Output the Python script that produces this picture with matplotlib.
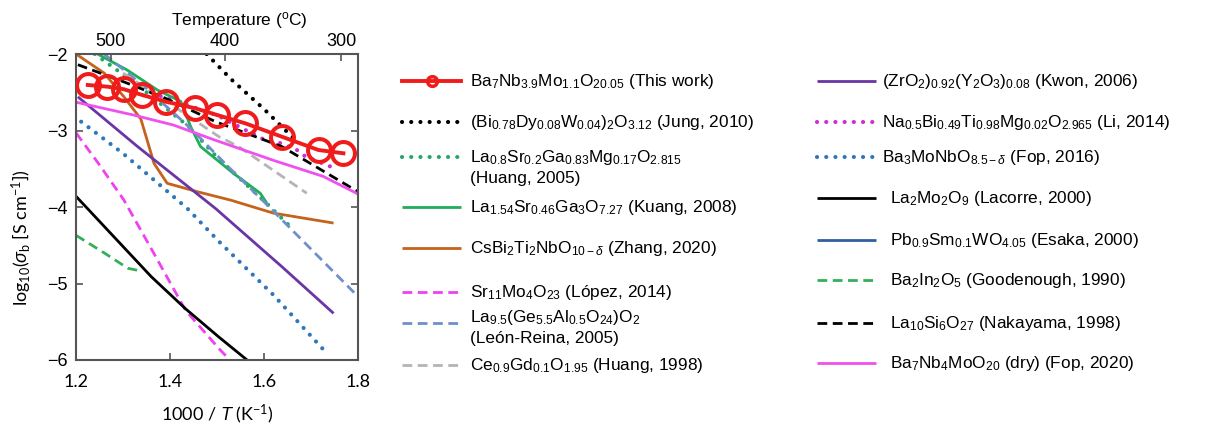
import matplotlib
matplotlib.use("Agg")
import matplotlib.pyplot as plt
from matplotlib.lines import Line2D

plt.rcParams['font.family'] = ['Liberation Sans', 'DejaVu Sans']
plt.rcParams['mathtext.fontset'] = 'custom'
plt.rcParams['mathtext.rm'] = 'Liberation Sans'
plt.rcParams['mathtext.it'] = 'Liberation Sans:italic'
plt.rcParams['mathtext.default'] = 'regular'

# ---- data ----
this_x = [1.225, 1.267, 1.302, 1.341, 1.391, 1.454, 1.500, 1.560, 1.638, 1.716, 1.769]
this_y = [-2.405, -2.427, -2.461, -2.536, -2.623, -2.710, -2.797, -2.906, -3.081, -3.255, -3.298]

jung_x = [1.478, 1.53, 1.60, 1.666]
jung_y = [-2.0, -2.33, -2.72, -3.12]

lsgm_x = [1.24, 1.33, 1.44, 1.50, 1.60, 1.66]
lsgm_y = [-2.0, -2.40, -2.95, -3.35, -3.92, -4.28]

kuang_x = [1.246, 1.309, 1.373, 1.423, 1.444, 1.465, 1.535, 1.592, 1.606]
kuang_y = [-2.0, -2.21, -2.47, -2.62, -2.95, -3.21, -3.56, -3.82, -3.95]

zhang_x = [1.20, 1.26, 1.302, 1.338, 1.366, 1.394, 1.458, 1.529, 1.620, 1.748]
zhang_y = [-2.0, -2.25, -2.56, -2.85, -3.43, -3.69, -3.80, -3.91, -4.08, -4.21]

lopez_x = [1.20, 1.25, 1.302, 1.366, 1.433, 1.504, 1.535]
lopez_y = [-3.03, -3.45, -3.91, -4.61, -5.35, -5.85, -6.05]

leon_x = [1.26, 1.35, 1.447, 1.52, 1.603, 1.70, 1.80]
leon_y = [-2.0, -2.45, -2.99, -3.45, -3.95, -4.55, -5.17]

cgo_x = [1.30, 1.40, 1.504, 1.546, 1.603, 1.691]
cgo_y = [-2.25, -2.65, -3.08, -3.21, -3.45, -3.82]

ysz_x = [1.204, 1.331, 1.497, 1.638, 1.748]
ysz_y = [-2.56, -3.21, -4.02, -4.78, -5.39]

li_x = [1.38, 1.50, 1.575, 1.599, 1.638, 1.670, 1.688, 1.741]
li_y = [-2.55, -2.80, -3.04, -3.115, -3.17, -3.255, -3.34, -3.47]

fop16_x = [1.211, 1.30, 1.437, 1.504, 1.62, 1.737]
fop16_y = [-2.885, -3.30, -4.02, -4.45, -5.15, -5.935]

lacorre_x = [1.20, 1.36, 1.433, 1.504, 1.564]
lacorre_y = [-3.86, -4.91, -5.33, -5.70, -6.0]

good_x = [1.20, 1.26, 1.31, 1.34]
good_y = [-4.37, -4.60, -4.80, -4.84]

naka_x = [1.204, 1.30, 1.391, 1.497, 1.638, 1.715, 1.80]
naka_y = [-2.14, -2.36, -2.58, -2.885, -3.21, -3.49, -3.80]

fop20_x = [1.20, 1.324, 1.408, 1.493, 1.620, 1.726, 1.80]
fop20_y = [-2.63, -2.80, -2.93, -3.12, -3.39, -3.60, -3.83]

temp_labels = ['500', '400', '300']
temp_pos = [1.274, 1.516, 1.764]

dot = (0, (0.01, 2.2))
dash = (0, (3.5, 2.0))

series = [
    # x, y, color, linestyle, label
    (jung_x, jung_y, 'black', dot,
     r'(Bi$_{0.78}$Dy$_{0.08}$W$_{0.04}$)$_2$O$_{3.12}$ (Jung, 2010)'),
    (lsgm_x, lsgm_y, '#25a868', dot,
     r'La$_{0.8}$Sr$_{0.2}$Ga$_{0.83}$Mg$_{0.17}$O$_{2.815}$' + '\n(Huang, 2005)'),
    (kuang_x, kuang_y, '#1fae5b', '-',
     r'La$_{1.54}$Sr$_{0.46}$Ga$_3$O$_{7.27}$ (Kuang, 2008)'),
    (zhang_x, zhang_y, '#c5621c', '-',
     r'CsBi$_2$Ti$_2$NbO$_{10-\mathit{\delta}}$ (Zhang, 2020)'),
    (lopez_x, lopez_y, '#f040f0', dash,
     r'Sr$_{11}$Mo$_4$O$_{23}$ (López, 2014)'),
    (leon_x, leon_y, '#6f8fcc', dash,
     r'La$_{9.5}$(Ge$_{5.5}$Al$_{0.5}$O$_{24}$)O$_2$' + '\n(León-Reina, 2005)'),
    (cgo_x, cgo_y, '#b4b4b4', dash,
     r'Ce$_{0.9}$Gd$_{0.1}$O$_{1.95}$ (Huang, 1998)'),
    (ysz_x, ysz_y, '#6a35a5', '-',
     r'(ZrO$_2$)$_{0.92}$(Y$_2$O$_3$)$_{0.08}$ (Kwon, 2006)'),
    (li_x, li_y, '#d02cd6', dot,
     r'Na$_{0.5}$Bi$_{0.49}$Ti$_{0.98}$Mg$_{0.02}$O$_{2.965}$ (Li, 2014)'),
    (fop16_x, fop16_y, '#2f78b8', dot,
     r'Ba$_3$MoNbO$_{8.5-\mathit{\delta}}$ (Fop, 2016)'),
    (lacorre_x, lacorre_y, 'black', '-',
     r'La$_2$Mo$_2$O$_9$ (Lacorre, 2000)'),
    ([], [], '#2f5fa0', '-',
     r'Pb$_{0.9}$Sm$_{0.1}$WO$_{4.05}$ (Esaka, 2000)'),
    (good_x, good_y, '#33b05a', dash,
     r'Ba$_2$In$_2$O$_5$ (Goodenough, 1990)'),
    (naka_x, naka_y, 'black', dash,
     r'La$_{10}$Si$_6$O$_{27}$ (Nakayama, 1998)'),
    (fop20_x, fop20_y, '#f050ee', '-',
     r'Ba$_7$Nb$_4$MoO$_{20}$ (dry) (Fop, 2020)'),
]


def style(ls):
    if ls == dot:
        return dict(linestyle=ls, lw=3.0, dash_capstyle='round')
    return dict(linestyle=ls, lw=2.0, dash_capstyle='butt', solid_capstyle='butt')


W, H = 1212, 430
fig = plt.figure(figsize=(W / 100, H / 100), dpi=100)
ax = fig.add_axes([76 / W, 1 - 360 / H, 282 / W, 306 / H])

for x, y, c, ls, lab in series:
    ax.plot(x, y, color=c, **style(ls))

red = '#f01c1c'
ax.plot(this_x, this_y, '-o', color=red, lw=2.8, ms=16.5, mfc='none', mew=2.9,
        zorder=10)

ax.set_xlim(1.2, 1.8)
ax.set_ylim(-6, -2)
ax.set_xticks([1.2, 1.4, 1.6, 1.8])
ax.set_yticks([-6, -5, -4, -3, -2])
ax.set_xticklabels(['1.2', '1.4', '1.6', '1.8'], family='Lato', fontsize=13)
ax.set_yticklabels(['\u22126', '\u22125', '\u22124', '\u22123', '\u22122'], fontsize=13)
ax.tick_params(direction='in', length=5, width=1.2, color='#555555',
               right=True, pad=6)
ax.tick_params(axis='x', pad=10)
for s in ax.spines.values():
    s.set_color('#555555')
    s.set_linewidth(1.5)

ax.set_xlabel(r'1000 / $\mathit{T}$ (K$^{-1}$)', family='Lato', fontsize=13)
ax.xaxis.set_label_coords(0.5, -0.14)
ax.set_ylabel(r'log$_{10}$($\mathit{\sigma}_b$ [S cm$^{-1}$])', family='Lato',
              fontsize=13)
ax.yaxis.set_label_coords(-0.15, 0.40)

ax2 = ax.twiny()
ax2.set_xlim(ax.get_xlim())
ax2.set_xticks(temp_pos)
ax2.set_xticklabels(temp_labels, fontsize=13)
ax2.tick_params(direction='in', length=5, width=1.2, color='#555555', pad=3)
ax2.set_xlabel(r'Temperature ($^{o}$C)', fontsize=12.5)
ax2.xaxis.set_label_coords(0.58, 1.095)
for s in ax2.spines.values():
    s.set_visible(False)


# ---- legend drawn by hand in pixel positions ----
def px(x, y):
    return x / W, 1 - y / H


def handle(x0, y, c, ls):
    (xa, ya), (xb, _) = px(x0, y), px(x0 + 59, y)
    fig.add_artist(Line2D([xa, xb], [ya, ya], color=c, transform=fig.transFigure,
                          **style(ls)))


def label(x, y, s):
    fig.text(*px(x, y + 5), s, fontsize=12.4, va='baseline', ha='left')


# entry for this work
xa, ya = px(402, 81)
xb, _ = px(461, 81)
fig.add_artist(Line2D([xa, xb], [ya, ya], color=red, lw=2.8,
                      transform=fig.transFigure))
fig.add_artist(Line2D([(xa + xb) / 2], [ya], color=red, marker='o', ms=7,
                      mfc='none', mew=2.5, transform=fig.transFigure))
label(470, 81, r'Ba$_7$Nb$_{3.9}$Mo$_{1.1}$O$_{20.05}$ (This work)')

col1 = [(122, 122), (157, 157), (207, 207), (248, 248), (292, 292),
        (323, 317), (365, 365)]
for (hy, ty), (_, _, c, ls, lab) in zip(col1, series[:7]):
    handle(402, hy, c, ls)
    parts = lab.split('\n')
    label(470, ty, parts[0])
    if len(parts) > 1:
        label(470, ty + 21, parts[1])

col2 = [81, 122, 157, 198, 240, 280, 323, 363]
tx2 = [882, 882, 882, 890, 890, 890, 890, 890]
for hy, tx, (_, _, c, ls, lab) in zip(col2, tx2, series[7:]):
    handle(817, hy, c, ls)
    label(tx, hy, lab)

fig.savefig('out.png', dpi=100)
